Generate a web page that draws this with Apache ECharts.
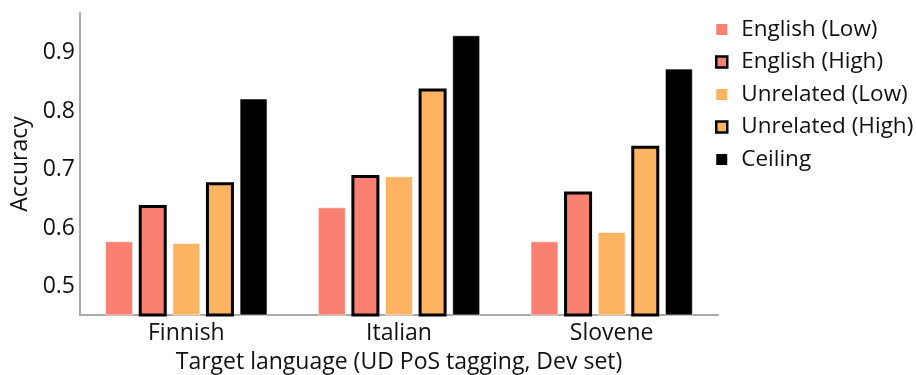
<!DOCTYPE html>
<html><head><meta charset="utf-8">
<script src="https://cdn.jsdelivr.net/npm/echarts@6/dist/echarts.min.js"></script>
<style>html,body{margin:0;padding:0;background:#fff}#c{width:916px;height:375px}</style>
</head><body><div id="c"></div>
<script>
const categories = ['Finnish', 'Italian', 'Slovene'];
const englishLow = [0.578, 0.636, 0.578];
const englishHigh = [0.640, 0.691, 0.663];
const unrelatedLow = [0.575, 0.689, 0.594];
const unrelatedHigh = [0.679, 0.839, 0.741];
const ceiling = [0.822, 0.930, 0.873];
const yTicks = [0.5, 0.6, 0.7, 0.8, 0.9];

const FONT = 'Open Sans';
const TXT = '#111';
const SALMON = '#FA8072';
const ORANGE = '#FDB462';

function bar(name, data, color, high) {
  return {
    name, type: 'bar', data, barWidth: 28, barGap: '20%',
    itemStyle: high ? { color, borderColor: '#000', borderWidth: 3 }
                    : { color, borderColor: 'rgba(255,255,255,0.6)', borderWidth: 1 }
  };
}

const chart = echarts.init(document.getElementById('c'), null, { renderer: 'canvas' });
chart.setOption({
  animation: false,
  textStyle: { fontFamily: FONT },
  grid: { left: 80, right: 198, top: 13, bottom: 60, containLabel: false, outerBoundsMode: 'none' },
  legend: {
    orient: 'vertical', left: 710, top: 13,
    itemWidth: 11, itemHeight: 11, itemGap: 9.5,
    textStyle: { fontFamily: FONT, fontSize: 22.5, color: TXT, lineHeight: 22, padding: [0, 0, 0, 9] },
    data: [
      { name: 'English (Low)', icon: 'rect', itemStyle: { borderWidth: 0 } },
      { name: 'English (High)', icon: 'rect', itemStyle: { borderColor: '#000', borderWidth: 2.5 } },
      { name: 'Unrelated (Low)', icon: 'rect', itemStyle: { borderWidth: 0 } },
      { name: 'Unrelated (High)', icon: 'rect', itemStyle: { borderColor: '#000', borderWidth: 2.5 } },
      { name: 'Ceiling', icon: 'rect', itemStyle: { borderWidth: 0 } }
    ]
  },
  xAxis: {
    type: 'category', data: categories,
    name: 'Target language (UD PoS tagging, Dev set)',
    nameLocation: 'middle', nameGap: 36,
    nameTextStyle: { fontFamily: FONT, fontSize: 23, color: TXT },
    axisLine: { lineStyle: { color: '#aaa', width: 2 } },
    axisTick: { show: false },
    axisLabel: { fontFamily: FONT, fontSize: 23, color: TXT, margin: 7 }
  },
  yAxis: {
    type: 'value', min: 0.452, max: 0.968,
    name: 'Accuracy', nameLocation: 'middle', nameGap: 45, nameRotate: 90,
    nameTextStyle: { fontFamily: FONT, fontSize: 23, color: TXT },
    axisLine: { show: true, lineStyle: { color: '#aaa', width: 2 } },
    axisTick: { show: false },
    splitLine: { show: false },
    axisLabel: { fontFamily: FONT, fontSize: 23, color: TXT, margin: 5,
      customValues: yTicks, formatter: v => v.toFixed(1) }
  },
  series: [
    bar('English (Low)', englishLow, SALMON, false),
    bar('English (High)', englishHigh, SALMON, true),
    bar('Unrelated (Low)', unrelatedLow, ORANGE, false),
    bar('Unrelated (High)', unrelatedHigh, ORANGE, true),
    { name: 'Ceiling', type: 'bar', data: ceiling, barWidth: 28, barGap: '20%',
      itemStyle: { color: '#000', borderColor: 'rgba(255,255,255,0.6)', borderWidth: 1 } }
  ]
});
</script></body></html>
